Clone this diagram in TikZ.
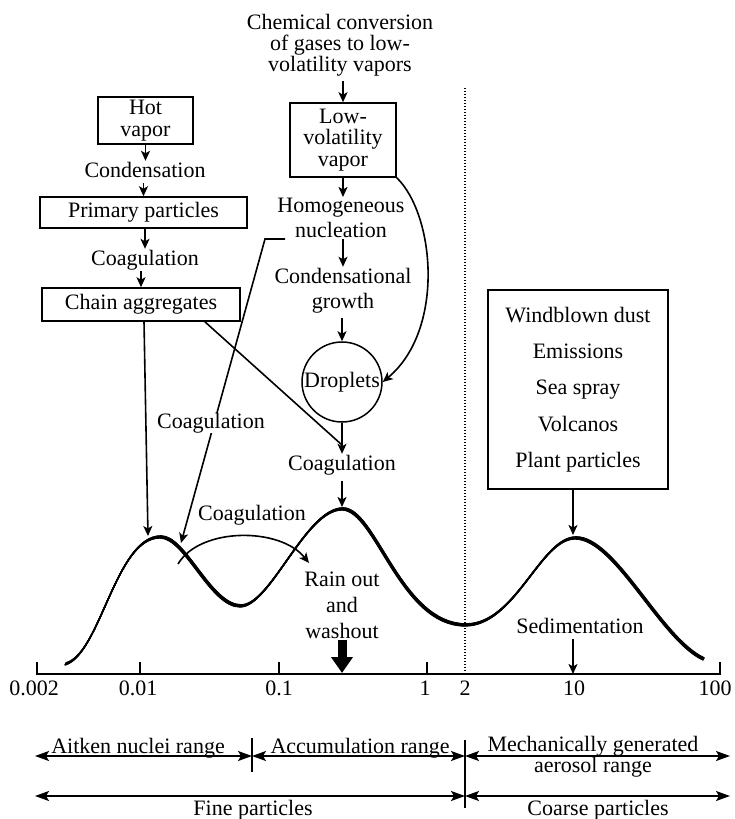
\documentclass[tikz,border=0pt]{standalone}
\usepackage{fontspec}
\setmainfont{Liberation Serif}
\usetikzlibrary{arrows.meta,calc}
\begin{document}
\begin{tikzpicture}[x=1pt,y=-1pt,
  txt/.style={font=\fontsize{22}{22}\selectfont, inner sep=1pt},
  one/.style={txt, text height=15pt, text depth=5pt},
  multi/.style={txt, align=center, font=\fontsize{22}{#1}\selectfont},
  box/.style={draw, line width=1.5pt, align=center},
  conn/.style={line width=1.6pt, -{Stealth[length=10pt,width=9pt,inset=2.5pt]}},
  plainline/.style={line width=1.6pt},
  rng/.style={line width=1.5pt, {Stealth[length=14pt,width=10pt,inset=3pt]}-{Stealth[length=14pt,width=10pt,inset=3pt]}},
  axisline/.style={line width=1.5pt},
]
\useasboundingbox (0,0) rectangle (734,819);

% ---------- left column
\node[box, multi=22, minimum width=95pt, minimum height=47pt] (hot) at (145.5,120.5) {Hot\\vapor};
\node[one] (cond) at (145,172) {Condensation};
\node[box, txt, minimum width=207pt, minimum height=31pt] (prim) at (143.5,212.5) {Primary particles};
\node[one] (cg1) at (145,260) {Coagulation};
\node[box, txt, minimum width=198pt, minimum height=33pt] (chain) at (141,304.5) {Chain aggregates};

% ---------- middle column
\node[multi=21] (chem) at (340,45) {Chemical conversion\\of gases to low-\\volatility vapors};
\node[box, multi=21.5, minimum width=106pt, minimum height=74pt] (lowv) at (343,140) {Low-\\volatility\\vapor};
\node[multi=25] (homog) at (341,218) {Homogeneous\\nucleation};
\node[multi=25] (condg) at (343,290.5) {Condensational\\growth};
\node[txt, draw, circle, line width=1.5pt, minimum size=80pt, inner sep=0pt] (drop) at (342,382) {Droplets};
\node[one] (cg2) at (342,465) {Coagulation};
\node[multi=26] (rain) at (342,605.5) {Rain out\\and\\washout};

% ---------- right
\node[box, multi=36.3, minimum width=180pt, minimum height=199pt] (src) at (578,389.5) {Windblown dust\\Emissions\\Sea spray\\Volcanos\\Plant particles};
\node[one] (sed) at (580,628) {Sedimentation};

\node[one] (cgarc) at (252,515) {Coagulation};

% ---------- coordinates
\coordinate (pk1a) at (148,536);
\coordinate (pk1b) at (181,543);
\coordinate (pk2) at (342,507);
\coordinate (pk3) at (573,535);
\coordinate (hn1) at (285,239);
\coordinate (hn2) at (265,239);
\coordinate (arcA) at (178,564);
\coordinate (arcB) at (309,563);
\coordinate (t10) at (573,674);
\coordinate (rw) at (342,673);
\coordinate (chd) at ($(chain.south west)!0.82!(chain.south east)$);
\coordinate (cgj) at (342,445);

% ---------- dotted divider
\draw[line width=1.3pt, dash pattern=on 1.3pt off 1.7pt] (465,88) -- (465,674);

% ---------- connectors
\draw[conn] (hot.south) -- (hot.south |- cond.north);
\draw[conn] (cond.south -| prim.north) -- (prim.north);
\draw[conn] (prim.south -| cg1.north) -- (cg1.north);
\draw[conn] (cg1.south -| chain.north) -- (chain.north);
\draw[conn, shorten <=4pt] (chem.south -| lowv.north) -- (lowv.north);
\draw[conn] (lowv.south) -- (lowv.south |- homog.north);
\draw[conn] (homog.south -| condg.north) -- (condg.north);
\draw[conn, shorten <=4pt] (condg.south -| drop.north) -- (drop.north);
\draw[conn] (drop.south) -- (cg2.north);
\draw[conn, shorten <=5pt] (cg2.south) -- (pk2);
\draw[conn] (lowv.south east) .. controls (435,215) and (445,330) .. (drop.east);
\draw[plainline] (chd) -- (cgj);
\draw[conn] ([xshift=3pt]chain.south) -- (pk1a);
\draw[conn] (hn1) -- (hn2) -- (pk1b);
\node[one, fill=white, inner sep=0pt] (cgl) at (211,423) {Coagulation};
\draw[conn] (arcA) .. controls (200,527) and (280,527) .. (arcB);
\draw[conn] (src.south -| pk3) -- (pk3);
\draw[conn] (sed.south -| t10) -- (t10);
\draw[line width=9pt, -{Triangle[length=16pt,width=21pt]}] (rain.south) -- (rw);

% ---------- distribution curve (calligraphic stroke)
\foreach \s in {0,0.125,...,1}
  \draw[line width=1.3pt, line cap=round, xshift={1.1pt*\s}, yshift={2.2pt*\s}]
    (65,665) .. controls (100,655) and (115,538) .. (160,538)
    .. controls (185,538) and (210,607) .. (240,607)
    .. controls (270,607) and (305,510) .. (342,510)
    .. controls (375,510) and (400,626) .. (465,626)
    .. controls (515,626) and (540,539) .. (575,539)
    .. controls (615,539) and (660,640) .. (703,660);

% ---------- axis
\draw[axisline] (37,662) -- (37,674) -- (720,674) -- (720,662);
\foreach \x in {140,279,427} \draw[axisline] (\x,662) -- (\x,674);
\foreach \x/\t [count=\i] in {34/0.002, 138/0.01, 279/0.1, 425/1, 465/2, 574/10, 715/100}
  \node[one] (tick\i) at (\x,690) {\t};

% ---------- ranges
\coordinate (r0) at (35,756);
\coordinate (r1) at (252,756);
\coordinate (r2) at (465,756);
\coordinate (r3) at (730,756);
\coordinate (f0) at (35,796);
\coordinate (f1) at (465,796);
\coordinate (f2) at (730,796);
\draw[rng] (r0) -- (r1);
\draw[rng] (r1) -- (r2);
\draw[rng] (r2) -- (r3);
\draw[rng] (f0) -- (f1);
\draw[rng] (f1) -- (f2);
\draw[axisline] (252,738) -- (252,772);
\draw[axisline] (465,740) -- (465,808);
\node[one] (ait) at (138,748) {Aitken nuclei range};
\node[one] (acc) at (360,748) {Accumulation range};
\node[multi=19] (mech) at (593,757) {Mechanically generated\\aerosol range};
\node[one] (fine) at (253,810) {Fine particles};
\node[one] (coarse) at (598,810) {Coarse particles};
\end{tikzpicture}
\end{document}
